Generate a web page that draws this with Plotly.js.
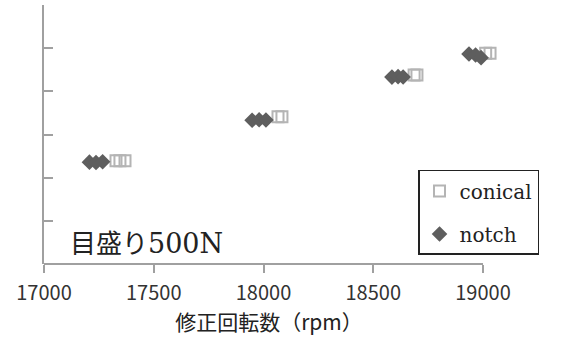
<!DOCTYPE html>
<html>
<head>
<meta charset="utf-8">
<script src="https://cdn.plot.ly/plotly-3.0.1.min.js"></script>
<style>
  html, body { margin: 0; padding: 0; background: #fff; }
  #chart { width: 565px; height: 344px; }
</style>
</head>
<body>
<div id="chart"></div>
<script>
// Corrected rotational speed (rpm) and load (N) for each specimen type
const conicalRpm  = [17328, 17346, 17369, 18066, 18084, 18686, 18699, 19012, 19032];
const conicalLoad = [1195, 1195, 1195, 1705, 1705, 2190, 2190, 2440, 2440];
const notchRpm    = [17207, 17237, 17267, 17948, 17980, 18011, 18585, 18613, 18636, 18936, 18966, 18991];
const notchLoad   = [1180, 1175, 1185, 1665, 1670, 1668, 2165, 2170, 2166, 2433, 2420, 2390];

const xTicks = [17000, 17500, 18000, 18500, 19000];
const xTickText = ['17000', '17500', '18000', '18500', '19000'];
const xAxisEnds = [17000, 19000];

const axisGrey = '#a0a0a0';

const traces = [
  {
    x: conicalRpm, y: conicalLoad, name: 'conical',
    type: 'scatter', mode: 'markers', legendgroup: 'a',
    cliponaxis: false,
    marker: { symbol: 'square-open', size: 11, color: '#b4b4b4', line: { width: 2, color: '#b4b4b4' } }
  },
  {
    x: notchRpm, y: notchLoad, name: 'notch',
    type: 'scatter', mode: 'markers', legendgroup: 'b',
    cliponaxis: false,
    marker: { symbol: 'diamond', size: 12, color: '#5e5e5e', line: { width: 0 } }
  }
];

const layout = {
  width: 565, height: 344,
  // a little room past 19000 so the last markers stay inside the range
  margin: { l: 44, r: 71, t: 5, b: 80 },
  paper_bgcolor: '#fff', plot_bgcolor: '#fff',
  showlegend: true,
  legend: {
    x: 0.852 * 439 / 450, y: 0.363, xanchor: 'left', yanchor: 'top',
    bgcolor: '#fff', bordercolor: '#222', borderwidth: 1.5,
    font: { family: 'DejaVu Serif', size: 20, color: '#222' },
    traceorder: 'grouped', tracegroupgap: 14,
    itemwidth: 30
  },
  xaxis: {
    range: [17000, 19050],
    tickvals: xTicks, ticktext: xTickText,
    ticks: 'outside', ticklen: 8, tickwidth: 2, tickcolor: axisGrey,
    showline: false,
    showgrid: false, zeroline: false,
    ticklabelstandoff: 3,
    tickfont: { family: 'Noto Sans CJK JP', size: 20, color: '#333' },
    title: {
      text: '修正回転数（rpm）',
      font: { family: 'Noto Sans CJK JP', size: 21, color: '#222' },
      standoff: 4
    }
  },
  yaxis: {
    range: [0, 3000], dtick: 500,
    ticks: 'inside', ticklen: 9, tickwidth: 2, tickcolor: axisGrey,
    showticklabels: false,
    showline: true, linecolor: axisGrey, linewidth: 2,
    showgrid: false, zeroline: false
  },
  shapes: [
    // horizontal axis line, ending at the 19000 tick
    {
      type: 'line', xref: 'x', yref: 'paper',
      x0: xAxisEnds[0], x1: xAxisEnds[1], y0: 0, y1: 0,
      line: { color: axisGrey, width: 2 }, layer: 'below'
    }
  ],
  annotations: [
    {
      text: '目盛り<span style="font-family:DejaVu Serif;font-size:27px">500N</span>',
      xref: 'paper', yref: 'paper',
      x: 24 / 450, y: 0.085, xanchor: 'left', yanchor: 'middle',
      showarrow: false,
      font: { family: 'Noto Sans CJK JP', size: 26, color: '#222' }
    }
  ]
};

Plotly.newPlot('chart', traces, layout, { staticPlot: true, displayModeBar: false });
</script>
</body>
</html>
